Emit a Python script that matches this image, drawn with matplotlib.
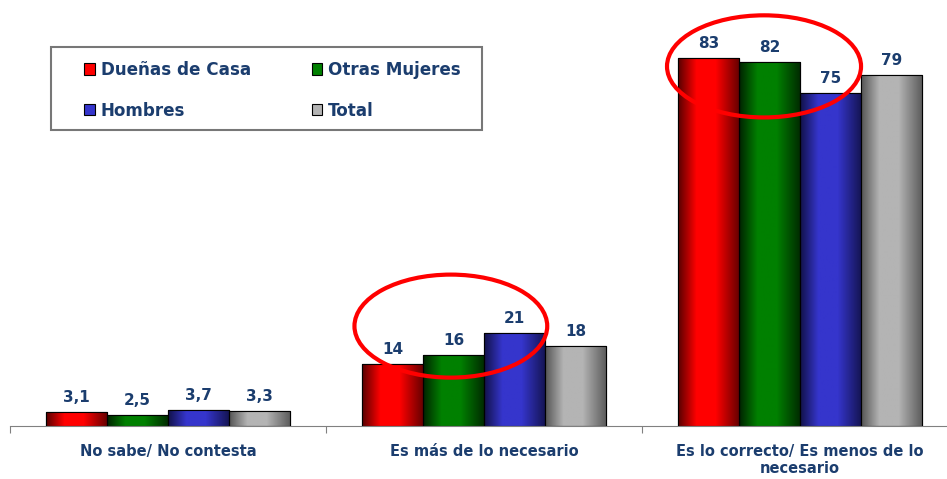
import numpy as np
import matplotlib
matplotlib.use("Agg")
import matplotlib.pyplot as plt
from matplotlib.patches import Patch, Ellipse, Rectangle
from matplotlib.colors import to_rgb

categorias = ["No sabe/ No contesta", "Es más de lo necesario",
              "Es lo correcto/ Es menos de lo\nnecesario"]
series = ["Dueñas de Casa", "Otras Mujeres", "Hombres", "Total"]
duenas = [3.1, 14, 83]
otras = [2.5, 16, 82]
hombres = [3.7, 21, 75]
total = [3.3, 18, 79]

# (claro, oscuro) de cada serie
colores = [("#ff0000", "#5a0000"), ("#008000", "#002400"),
           ("#3535cc", "#12124a"), ("#b4b4b4", "#555555")]
azul = "#1b3d6e"

fig = plt.figure(figsize=(9.47, 4.79), dpi=100)
ax = fig.add_axes([10/947, 1 - 426/479, 937/947, 420/479])

x = np.arange(len(categorias))
w = 0.193
valores = [duenas, otras, hombres, total]

t = np.linspace(0, 1, 64)
peso = np.interp(t, [0, 0.3, 0.62, 1.0], [0, 1, 1, 0.1])

for i, vals in enumerate(valores):
    claro = np.array(to_rgb(colores[i][0]))
    oscuro = np.array(to_rgb(colores[i][1]))
    grad = oscuro[None, :] + peso[:, None] * (claro - oscuro)[None, :]
    pos = x + (i - 1.5) * w
    barras = ax.bar(pos, vals, w, color=colores[i][0], edgecolor="black",
                    linewidth=0.8, zorder=2)
    for b, v in zip(barras, vals):
        im = ax.imshow(grad[None, :, :], extent=[b.get_x(), b.get_x() + w, 0, v],
                       aspect="auto", zorder=2.5, interpolation="bilinear")
        im.set_clip_path(b)
        ax.bar(b.get_x() + w/2, v, w, facecolor="none", edgecolor="black",
               linewidth=0.8, zorder=3)
        txt = str(int(v)) if float(v).is_integer() else str(v).replace(".", ",")
        ax.annotate(txt, (b.get_x() + w/2, v), xytext=(0, 5),
                    textcoords="offset points", ha="center", va="bottom",
                    fontsize=11, fontweight="bold", color=azul)

# elipses rojas de resaltado
ax.add_patch(Ellipse((0.895, 22.5), 0.61, 23.2, fill=False,
                     edgecolor="#ff0000", linewidth=3, zorder=4))
ax.add_patch(Ellipse((1.886, 81), 0.614, 23, fill=False,
                     edgecolor="#ff0000", linewidth=3, zorder=4))

ax.set_xlim(-0.5, 2.465)
ax.set_ylim(0, 94.6)
for s in ["top", "right", "left"]:
    ax.spines[s].set_visible(False)
ax.spines["bottom"].set_color("#808080")
ax.set_yticks([])
ax.set_xticks([-0.5, 0.5, 1.5])
ax.set_xticklabels([])
ax.tick_params(axis="x", which="major", length=5, color="#808080")
ax.set_xticks(x, minor=True)
ax.set_xticklabels(categorias, minor=True, fontsize=10.5, fontweight="bold",
                   color=azul)
ax.tick_params(axis="x", which="minor", length=0, pad=13)

# leyenda
fig.add_artist(Rectangle((51/947, 1 - 130/479), 431/947, 83/479,
                         transform=fig.transFigure, fill=False,
                         edgecolor="#777777", linewidth=1.5))
orden = [0, 2, 1, 3]
manijas = [Patch(facecolor=colores[i][0], edgecolor="black", linewidth=0.8)
           for i in orden]
leg = fig.legend(manijas, [series[i] for i in orden], ncol=2,
                 loc="upper left", bbox_to_anchor=(84/947, 1 - 61/479),
                 frameon=False, borderpad=0, borderaxespad=0,
                 handlelength=0.65, handleheight=0.65, handletextpad=0.35,
                 labelspacing=1.35, columnspacing=3.6,
                 prop={"size": 12.1, "weight": "bold"})
for tx in leg.get_texts():
    tx.set_color(azul)

fig.savefig("out.png", dpi=100)
